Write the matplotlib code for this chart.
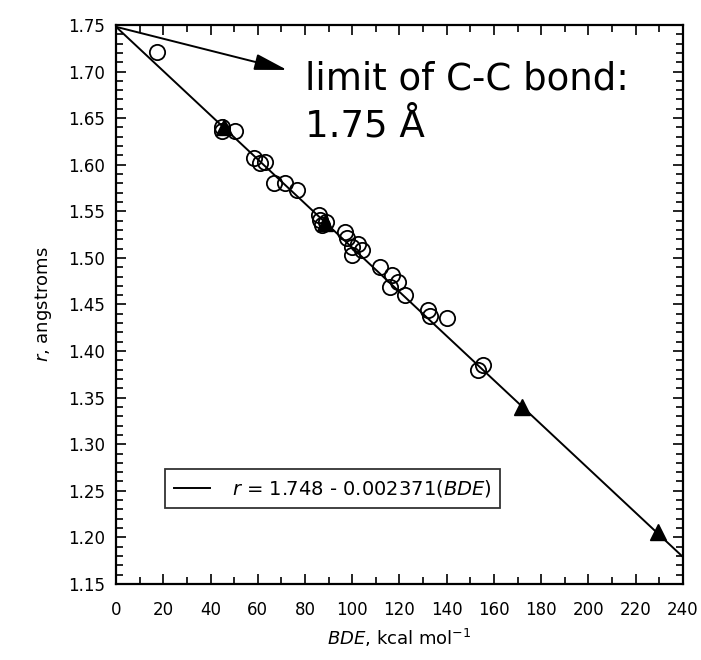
import matplotlib
matplotlib.use("Agg")
import matplotlib.pyplot as plt
import numpy as np
from matplotlib.ticker import MultipleLocator, FormatStrFormatter

plt.rcParams['font.family'] = ['DejaVu Sans']
plt.rcParams['mathtext.fontset'] = 'dejavusans'

# Data (circles)
bde_circ = [17.4, 44.9, 44.9, 50.4, 58.4, 61.0, 63.1, 66.9, 71.5, 76.6,
            85.9, 86.3, 87.2, 88.9, 96.9, 97.8, 99.9, 102.4, 99.9, 104.1,
            111.7, 116.8, 116.0, 119.4, 122.3, 132.1, 132.9, 140.1, 153.2, 155.3]
r_circ = [1.721, 1.6405, 1.636, 1.636, 1.607, 1.602, 1.603, 1.580, 1.580, 1.573,
          1.546, 1.541, 1.535, 1.539, 1.528, 1.521, 1.512, 1.515, 1.503, 1.508,
          1.490, 1.482, 1.469, 1.474, 1.460, 1.444, 1.438, 1.436, 1.380, 1.385]
# Data (triangles)
bde_tri = [45.5, 88.5, 171.9, 229.4]
r_tri = [1.640, 1.537, 1.340, 1.206]
# Fit
intercept = 1.748
slope = -0.002371
fit_x = [0, 240]

fig = plt.figure(figsize=(7.01, 6.60), dpi=100)
ax = fig.add_axes([0.1655, 0.1152, 0.8088, 0.8470])

fx = np.array(fit_x, dtype=float)
ax.plot(fx, intercept + slope * fx, color='black', lw=1.4,
        label=r'$\it{r}$ = 1.748 - 0.002371($\it{BDE}$)', zorder=2)
ax.plot(bde_circ, r_circ, 'o', mfc='none', mec='black', mew=1.3, ms=11, zorder=3)
ax.plot(bde_tri, r_tri, '^', color='black', ms=11, zorder=3)

ax.set_xlim(0, 240)
ax.set_ylim(1.15, 1.75)
ax.xaxis.set_major_locator(MultipleLocator(20))
ax.xaxis.set_minor_locator(MultipleLocator(10))
ax.yaxis.set_major_locator(MultipleLocator(0.05))
ax.yaxis.set_minor_locator(MultipleLocator(0.01))
ax.yaxis.set_major_formatter(FormatStrFormatter('%.2f'))
ax.tick_params(which='both', direction='in', top=True, right=True, labelsize=12,
               width=1.2)
ax.tick_params(axis='x', which='major', pad=12)
ax.tick_params(axis='y', which='major', pad=8)
ax.tick_params(which='major', length=7)
ax.tick_params(which='minor', length=5)
for s in ax.spines.values():
    s.set_linewidth(1.6)

ax.set_xlabel(r'$\it{BDE}$, kcal mol$^{-1}$', fontsize=13, labelpad=6)
ax.set_ylabel(r'$\it{r}$, angstroms', fontsize=13, labelpad=10)

ax.annotate('', xy=(72.4, 1.7017), xytext=(0, 1.748),
            arrowprops=dict(arrowstyle='-|>,head_length=1.0,head_width=0.25',
                            color='black', lw=1.4,
                            mutation_scale=20, shrinkA=0, shrinkB=0))
ax.text(79.8, 1.6802, 'limit of C-C bond:', fontsize=26.7, va='baseline', ha='left')
ax.text(79.8, 1.6298, '1.75 Å', fontsize=26.7, va='baseline', ha='left')

leg = ax.legend(loc='lower left', bbox_to_anchor=(0.0864, 0.136), fontsize=14,
                frameon=True, fancybox=False, edgecolor='black', handlelength=1.85,
                handletextpad=1.13, borderpad=0.45, borderaxespad=0)
leg.get_frame().set_linewidth(1.3)

fig.savefig('out.png', dpi=100)
